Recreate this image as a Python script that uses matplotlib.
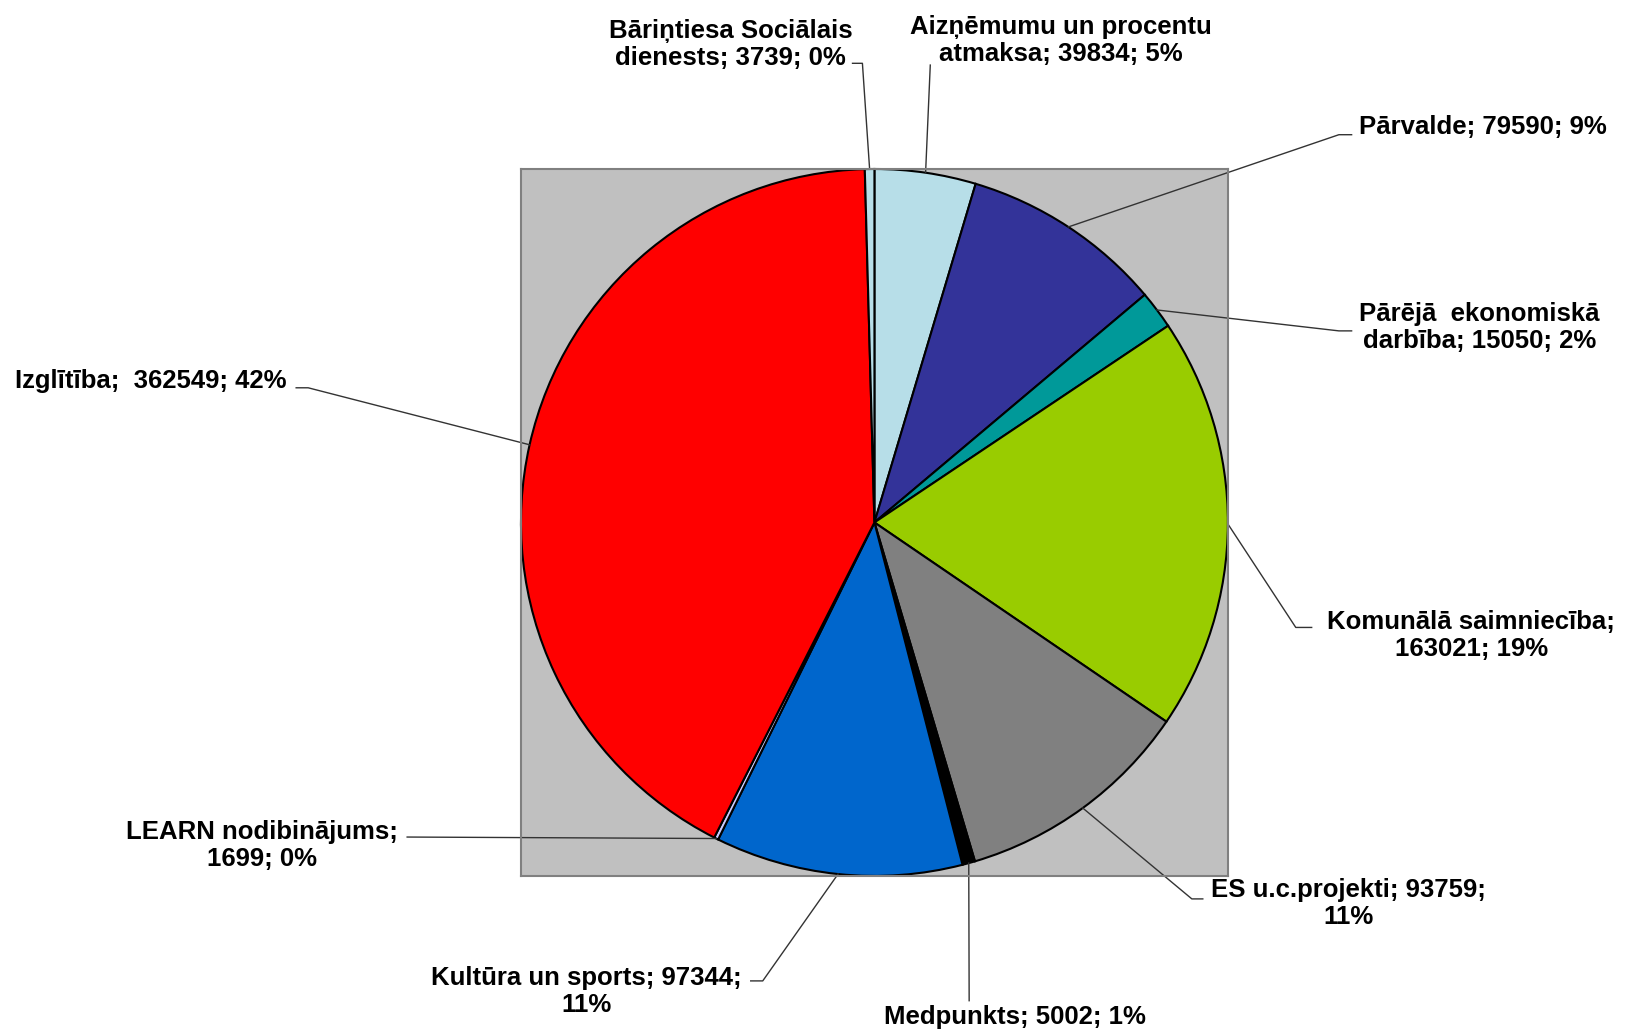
import numpy as np
import matplotlib
matplotlib.use("Agg")
import matplotlib.pyplot as plt

# dati (pulksteņrādītāja virzienā no augšas)
nosaukumi = ["Aizņēmumu un procentu atmaksa", "Pārvalde", "Pārējā ekonomiskā darbība",
             "Komunālā saimniecība", "ES u.c.projekti", "Medpunkts", "Kultūra un sports",
             "LEARN nodibinājums", "Izglītība", "Bāriņtiesa Sociālais dienests"]
vertibas = [39834, 79590, 15050, 163021, 93759, 5002, 97344, 1699, 362549, 3739]
krasas = ["#B7DEE8", "#333399", "#009999", "#99CC00", "#808080", "#000000",
          "#0066CC", "#CCCCFF", "#FF0000", "#B7DEE8"]
# etiķešu teksts ar rindu pārnesumiem kā oriģinālā
sabloni = ["Aizņēmumu un procentu\natmaksa; {v}; {p}%",
           "Pārvalde; {v}; {p}%",
           "Pārējā  ekonomiskā\ndarbība; {v}; {p}%",
           "Komunālā saimniecība;\n{v}; {p}%",
           "ES u.c.projekti; {v};\n{p}%",
           "Medpunkts; {v}; {p}%",
           "Kultūra un sports; {v};\n{p}%",
           "LEARN nodibinājums;\n{v}; {p}%",
           "Izglītība;  {v}; {p}%",
           "Bāriņtiesa Sociālais\ndienests; {v}; {p}%"]

# etiķešu novietojums (rādiusa vienībās) un līniju lūzuma punkti
teksta_vietas = [(0.528, 1.364), (1.720, 1.119), (1.712, 0.551), (1.689, -0.319),
                 (1.342, -1.079), (0.398, -1.398), (-0.814, -1.328), (-1.732, -0.915),
                 (-2.048, 0.401), (-0.407, 1.353)]
lauzumi = [[(0.158, 1.294)],
           [(1.314, 1.097), (1.350, 1.097)],
           [(1.314, 0.542), (1.350, 0.542)],
           [(1.192, -0.297), (1.237, -0.297)],
           [(0.898, -1.065), (0.929, -1.065)],
           [(0.268, -1.353)],
           [(-0.316, -1.297), (-0.350, -1.297)],
           [(-1.322, -0.890)],
           [(-1.602, 0.381), (-1.636, 0.381)],
           [(-0.034, 1.299), (-0.062, 1.299)]]

plt.rcParams['font.family'] = ['Liberation Sans', 'DejaVu Sans']

fig = plt.figure(figsize=(16.27, 10.31), dpi=100)
ax = fig.add_axes([0.3202, 0.1494, 0.4345, 0.6877])
ax.set_facecolor("#C0C0C0")
for s in ax.spines.values():
    s.set_color("#808080")
    s.set_linewidth(1.5)

wedges, _ = ax.pie(vertibas, colors=krasas, startangle=90, counterclock=False,
                   radius=1.0, frame=True,
                   wedgeprops=dict(edgecolor="black", linewidth=1.5))
ax.set_xlim(-1, 1)
ax.set_ylim(-1, 1)
ax.set_xticks([])
ax.set_yticks([])

kopa = sum(vertibas)
for w, v, sab, (tx, ty), lz in zip(wedges, vertibas, sabloni, teksta_vietas, lauzumi):
    ang = np.deg2rad((w.theta1 + w.theta2) / 2)
    xs = [np.cos(ang)] + [p[0] for p in lz]
    ys = [np.sin(ang)] + [p[1] for p in lz]
    ax.plot(xs, ys, color="#333333", lw=1, clip_on=False)
    p = int(round(v / kopa * 100))
    ax.text(tx, ty, sab.format(v=v, p=p), ha="center", va="center",
            multialignment="center", fontsize=18.5, fontweight="bold",
            linespacing=1.15, clip_on=False)

fig.savefig("out.png", dpi=100)
